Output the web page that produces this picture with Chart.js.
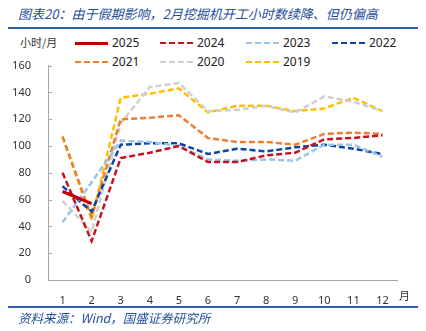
<!DOCTYPE html>
<html>
<head>
<meta charset="utf-8">
<script src="https://cdn.jsdelivr.net/npm/chart.js"></script>
<style>
    body { margin: 0; background: #fff; width: 426px; height: 331px; position: relative; overflow: hidden;
           font-family: 'Noto Sans', 'Noto Sans CJK SC', sans-serif; }
    .title { position: absolute; left: 18px; top: 4px; font-size: 13px; color: #1f4e9a; font-style: italic;
             font-family: 'Noto Sans CJK SC', sans-serif; white-space: nowrap; }
    .rule { position: absolute; left: 8px; width: 410px; height: 2px; background: #2e5fa8; }
    .source { position: absolute; left: 18px; top: 308px; font-size: 12.5px; color: #1f4e9a; font-style: italic;
              font-family: 'Noto Sans CJK SC', sans-serif; white-space: nowrap; }
    .unit { position: absolute; left: 20px; top: 34px; font-size: 11px; color: #333;
            font-family: 'Noto Sans CJK SC', sans-serif; }
    .xunit { position: absolute; left: 399px; top: 287px; font-size: 11px; color: #333;
             font-family: 'Noto Sans CJK SC', sans-serif; }
    .leg { position: absolute; height: 16px; font-size: 12px; color: #222; white-space: nowrap; }
    .leg span.sw { position: absolute; left: 0; top: 7px; width: 33px; }
    .leg span.tx { position: absolute; left: 37px; top: -1px; }
    #wrap { position: absolute; left: 0; top: 50px; width: 426px; height: 260px; }
</style>
</head>
<body>
<div class="title">图表20：由于假期影响，2月挖掘机开工小时数续降、但仍偏高</div>
<div class="rule" style="top:27px"></div>
<div class="unit">小时/月</div>
<div id="legend"></div>
<div id="wrap"><canvas id="chart"></canvas></div>
<div class="xunit">月</div>
<div class="rule" style="top:306px"></div>
<div class="source">资料来源：Wind，国盛证券研究所</div>

<script>
    const months = ['1', '2', '3', '4', '5', '6', '7', '8', '9', '10', '11', '12'];
    const yTicks = [0, 20, 40, 60, 80, 100, 120, 140, 160];

    const s2025 = [66, 57];
    const s2024 = [80, 29, 91, 95, 100, 88, 88, 93, 95, 105, 106, 108];
    const s2023 = [43, 73, 104, 103, 100, 90, 89, 90, 89, 101, 101, 92];
    const s2022 = [70, 51, 101, 102, 102, 94, 98, 96, 99, 101, 98, 94];
    const s2021 = [107, 47, 120, 121, 123, 106, 103, 103, 101, 109, 110, 109];
    const s2020 = [59, 36, 117, 144, 147, 126, 127, 130, 125, 137, 133, 126];
    const s2019 = [107, 45, 136, 139, 143, 125, 130, 130, 126, 128, 136, 126];

    const series = [
        { label: '2025', data: s2025, color: '#c00000', dash: [], width: 3.2 },
        { label: '2024', data: s2024, color: '#c8101e', dash: [6, 3], width: 2.5 },
        { label: '2023', data: s2023, color: '#9dc3e6', dash: [6, 3], width: 2.5 },
        { label: '2022', data: s2022, color: '#0b45a6', dash: [6, 3], width: 2.5 },
        { label: '2021', data: s2021, color: '#ed7d31', dash: [6, 3], width: 2.5 },
        { label: '2020', data: s2020, color: '#cfcfcf', dash: [6, 3], width: 2.5 },
        { label: '2019', data: s2019, color: '#ffc000', dash: [6, 3], width: 2.5 }
    ];

    // legend: 4 per row
    const legend = document.getElementById('legend');
    const legX = [75, 160, 246, 332];
    const legY = [35, 54];
    series.forEach((s, i) => {
        const d = document.createElement('div');
        d.className = 'leg';
        d.style.left = legX[i % 4] + 'px';
        d.style.top = legY[Math.floor(i / 4)] + 'px';
        const sw = s.dash.length
            ? `border-top:${s.width}px dashed ${s.color};`
            : `border-top:${s.width}px solid ${s.color};`;
        d.innerHTML = `<span class="sw" style="${sw}"></span><span class="tx">${s.label}</span>`;
        legend.appendChild(d);
    });

    // short tick marks on the inside of the y axis
    const innerTicks = {
        id: 'innerTicks',
        afterDraw(chart) {
            const y = chart.scales.y;
            const ctx = chart.ctx;
            ctx.save();
            ctx.strokeStyle = '#a6a6a6';
            ctx.lineWidth = 1;
            y.ticks.forEach(t => {
                const py = Math.round(y.getPixelForValue(t.value)) + 0.5;
                ctx.beginPath();
                ctx.moveTo(y.right, py);
                ctx.lineTo(y.right + 4, py);
                ctx.stroke();
            });
            ctx.restore();
        }
    };

    new Chart(document.getElementById('chart'), {
        type: 'line',
        data: {
            labels: months,
            datasets: series.map(s => ({
                label: s.label,
                data: s.data,
                borderColor: s.color,
                backgroundColor: s.color,
                borderDash: s.dash,
                borderWidth: s.width,
                pointRadius: 0,
                tension: 0,
                fill: false
            }))
        },
        options: {
            responsive: true,
            maintainAspectRatio: false,
            animation: false,
            layout: { padding: { left: 0, top: 12, right: 29, bottom: 0 } },
            plugins: { legend: { display: false }, tooltip: { enabled: false } },
            scales: {
                x: {
                    offset: true,
                    grid: { display: false },
                    border: { display: true, color: '#a6a6a6', width: 1 },
                    ticks: { color: '#333', font: { size: 11, family: 'Noto Sans' }, padding: 6, maxRotation: 0 },
                    afterFit: s => { s.height = 30; }
                },
                y: {
                    min: 0, max: 160,
                    afterBuildTicks: s => { s.ticks = yTicks.map(v => ({ value: v })); },
                    grid: { display: false },
                    border: { display: true, color: '#a6a6a6', width: 1 },
                    ticks: { color: '#333', font: { size: 11, family: 'Noto Sans' }, padding: 9 },
                    afterFit: s => { s.width = 48; }
                }
            }
        },
        plugins: [innerTicks]
    });
</script>
</body>
</html>
